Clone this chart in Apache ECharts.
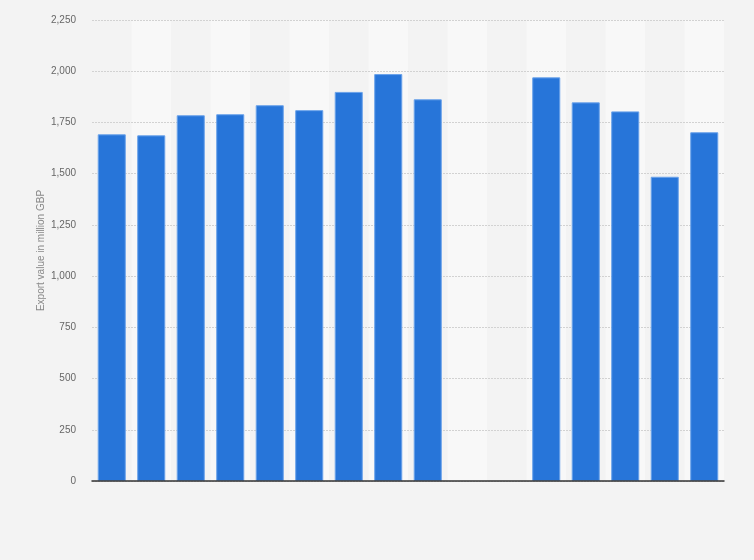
<!DOCTYPE html>
<html>
<head>
<meta charset="utf-8">
<script src="https://cdn.jsdelivr.net/npm/echarts@6/dist/echarts.min.js"></script>
<style>
  html, body { margin: 0; padding: 0; background: #f3f3f3; }
  #chart { width: 754px; height: 560px; }
</style>
</head>
<body>
<div id="chart"></div>
<script>
// 16 slots on the x axis, labels are not shown in the picture
const categories = ['1', '2', '3', '4', '5', '6', '7', '8', '9', '10', '11', '12', '13', '14', '15', '16'];
// two empty slots (no value) in the middle
const exportValues = [1692, 1687, 1785, 1790, 1834, 1810, 1899, 1986, 1863, null, null, 1970, 1848, 1804, 1485, 1702];
const yTicks = { min: 0, max: 2250, interval: 250 };

const chart = echarts.init(document.getElementById('chart'));

chart.setOption({
  backgroundColor: '#f3f3f3',
  animation: false,
  grid: { left: 92, right: 30, top: 20, bottom: 79, containLabel: false },
  xAxis: [
    {
      // background stripes only
      type: 'category',
      data: categories,
      z: 0,
      axisTick: { show: false },
      axisLabel: { show: false },
      axisLine: { show: false },
      splitArea: {
        show: true,
        areaStyle: { color: ['rgba(0,0,0,0)', '#f8f8f8'] }
      }
    },
    {
      // dark baseline drawn on top of the grid lines
      type: 'category',
      data: categories,
      position: 'bottom',
      z: 3,
      axisTick: { show: false },
      axisLabel: { show: false },
      axisLine: { lineStyle: { color: '#333', width: 1.5 } }
    }
  ],
  yAxis: {
    type: 'value',
    z: 1,
    min: yTicks.min,
    max: yTicks.max,
    interval: yTicks.interval,
    name: 'Export value in million GBP',
    nameLocation: 'middle',
    nameGap: 46,
    nameMoveOverlap: false,
    nameTextStyle: { color: '#888', fontSize: 10, fontFamily: 'Arial, Liberation Sans, sans-serif' },
    axisLine: { show: false },
    axisTick: { show: false },
    axisLabel: {
      color: '#666',
      fontSize: 10,
      margin: 16,
      fontFamily: 'Arial, Liberation Sans, sans-serif',
      formatter: v => v.toLocaleString('en-US')
    },
    splitLine: { lineStyle: { color: '#d2d2d2', type: [2, 1], width: 1 } }
  },
  series: [
    {
      type: 'bar',
      xAxisIndex: 0,
      data: exportValues,
      barCategoryGap: '29%',
      itemStyle: { color: '#2775d9', borderColor: '#6aa2ea', borderWidth: 1 }
    }
  ]
});
</script>
</body>
</html>
